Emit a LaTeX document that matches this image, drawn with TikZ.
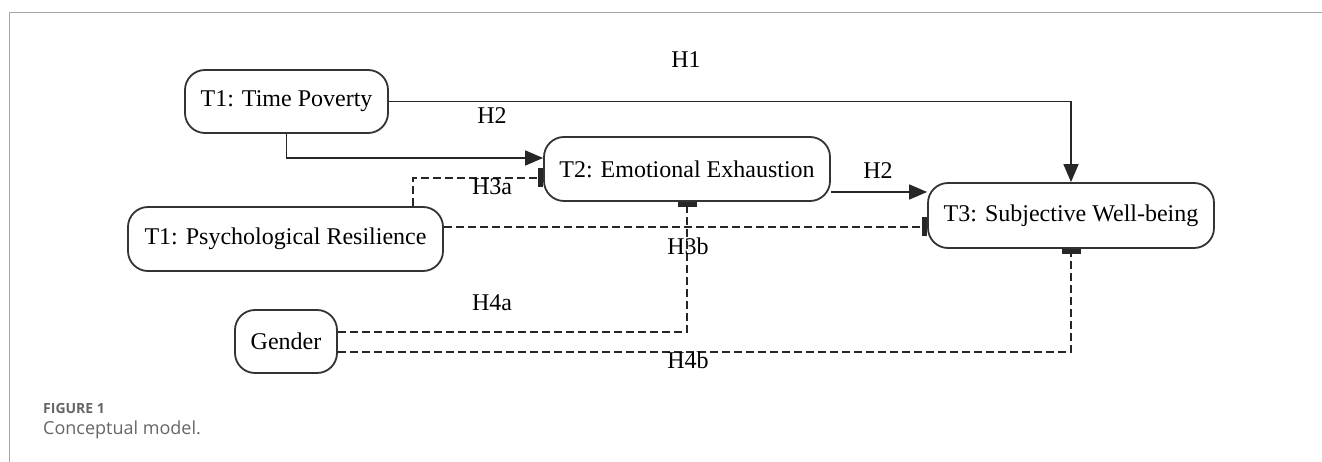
\documentclass[tikz,border=0pt]{standalone}
\usepackage{fontspec}
\setmainfont{Liberation Serif}
\newfontfamily\capfont{Open Sans}
\usetikzlibrary{arrows.meta}
\begin{document}
\begin{tikzpicture}[x=1pt,y=-1pt,
  box/.style={draw=black!80, line width=1.8pt, rounded corners=20pt, fill=white,
    inner sep=0pt, align=center, font=\fontsize{24}{28}\selectfont},
  lbl/.style={inner sep=0pt, font=\fontsize{24}{28}\selectfont},
  link/.style={line width=1.6pt, draw=black!85},
  effect/.style={link, -{Triangle[length=18pt,width=15pt]}},
  moderator/.style={link, dash pattern=on 8pt off 4pt, -{Rectangle[length=5pt,width=19pt]}},
  frameline/.style={draw=black!35, line width=1.6pt},
  captag/.style={anchor=west, inner sep=0pt, text=black!60, font=\capfont\bfseries\fontsize{14}{16}\selectfont},
  captext/.style={anchor=west, inner sep=0pt, text=black!60, font=\capfont\fontsize{18}{21}\selectfont}]
\useasboundingbox (0,0) rectangle (1322,462);

% panel frame
\draw[frameline] (9.5,462) -- (9.5,12.7) -- (1322,12.7);

% constructs
\node[box, minimum width=203pt, minimum height=63pt] (tp)  at (286.5,101.5) {T1: Time Poverty};
\node[box, minimum width=315pt, minimum height=64pt] (res) at (285.5,239)   {T1: Psychological Resilience};
\node[box, minimum width=286pt, minimum height=64pt] (ee)  at (687,169)     {T2: Emotional Exhaustion};
\node[box, minimum width=286pt, minimum height=65pt] (swb) at (1071,215.5)  {T3: Subjective Well-being};
\node[box, minimum width=102pt, minimum height=63pt] (gen) at (286,341.5)   {Gender};

% direct and mediated paths
\draw[effect] (tp.east) -| (swb.north);
\draw[effect] (tp.south) |- ([yshift=11pt]ee.west);
\draw[effect] ([yshift=-23pt]ee.east) -- ([yshift=-23pt]ee.east -| swb.west);

% moderation paths
\draw[moderator] ([xshift=127.5pt]res.north) |- ([yshift=-9pt]ee.west);
\draw[moderator] ([yshift=12pt]res.east) -- ([yshift=12pt]res.east -| swb.west);
\draw[moderator] ([yshift=9.5pt]gen.east) -| (ee.south);
\draw[moderator] ([yshift=-10.5pt]gen.east) -| (swb.south);

% hypothesis labels
\node[lbl] (h1)  at (686,60)  {H1};
\node[lbl] (h2a) at (492,116) {H2};
\node[lbl] (h3a) at (492,187) {H3a};
\node[lbl] (h2b) at (878,171) {H2};
\node[lbl] (h3b) at (688,246) {H3b};
\node[lbl] (h4a) at (492,303) {H4a};
\node[lbl] (h4b) at (688,360) {H4b};

% caption
\node[captag]  (figtag) at (43,408) {FIGURE 1};
\node[captext] (figcap) at (43,430) {Conceptual model.};
\end{tikzpicture}
\end{document}
